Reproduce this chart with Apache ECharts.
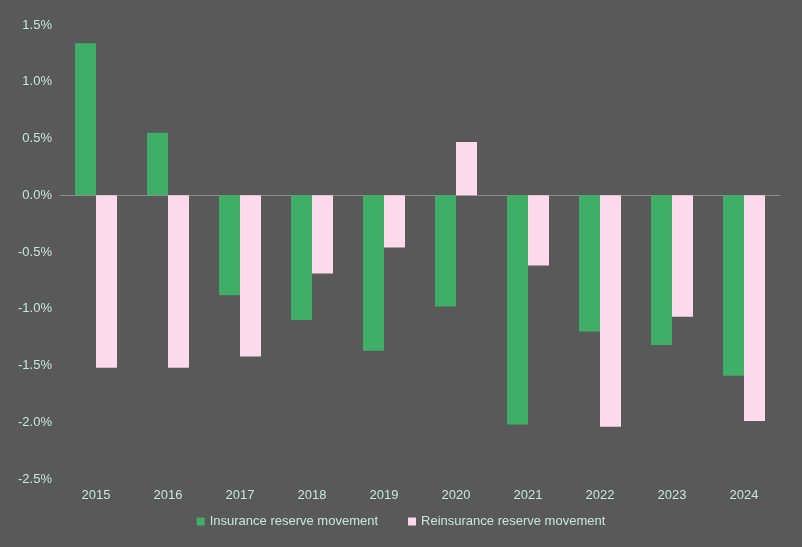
<!DOCTYPE html>
<html><head><meta charset="utf-8">
<script src="https://cdn.jsdelivr.net/npm/echarts@6/dist/echarts.min.js"></script>
<style>html,body{margin:0;padding:0;background:#595959}#c{width:802px;height:547px}</style>
</head><body><div id="c"></div>
<script>
var years = ['2015','2016','2017','2018','2019','2020','2021','2022','2023','2024'];
var insurance = [1.34, 0.55, -0.88, -1.10, -1.37, -0.98, -2.02, -1.20, -1.32, -1.59];
var reinsurance = [-1.52, -1.52, -1.42, -0.69, -0.46, 0.47, -0.62, -2.04, -1.07, -1.99];

var textColor = '#c8e6dc';
var font = 'Liberation Sans';
var chart = echarts.init(document.getElementById('c'));
chart.setOption({
    backgroundColor: '#595959',
    animation: false,
    grid: {left: 60, right: 22, top: 25, bottom: 68},
    legend: {
        bottom: 14, itemWidth: 8, itemHeight: 8, itemGap: 30,
        textStyle: {color: textColor, fontSize: 13, fontFamily: font},
        data: [{name: 'Insurance reserve movement', icon: 'rect'}, {name: 'Reinsurance reserve movement', icon: 'rect'}]
    },
    xAxis: [{
        // zero line, no labels
        type: 'category', data: years,
        axisLine: {onZero: true, lineStyle: {color: '#8c8c8c'}},
        axisTick: {show: false},
        axisLabel: {show: false}
    }, {
        // labels along the bottom
        type: 'category', data: years, position: 'bottom',
        axisLine: {show: false, onZero: false},
        axisTick: {show: false},
        axisLabel: {color: textColor, fontSize: 13, fontFamily: font, margin: 10}
    }],
    yAxis: {
        type: 'value', min: -2.5, max: 1.5, interval: 0.5,
        splitLine: {show: false},
        axisLabel: {color: textColor, fontSize: 13, fontFamily: font,
            formatter: function (v) { return v.toFixed(1) + '%'; }}
    },
    series: [
        {name: 'Insurance reserve movement', type: 'bar', data: insurance, barWidth: 21, barGap: '0%',
            itemStyle: {color: '#3faf68'}},
        {name: 'Reinsurance reserve movement', type: 'bar', data: reinsurance, barWidth: 21,
            itemStyle: {color: '#fdd9ec'}}
    ]
});
</script></body></html>
